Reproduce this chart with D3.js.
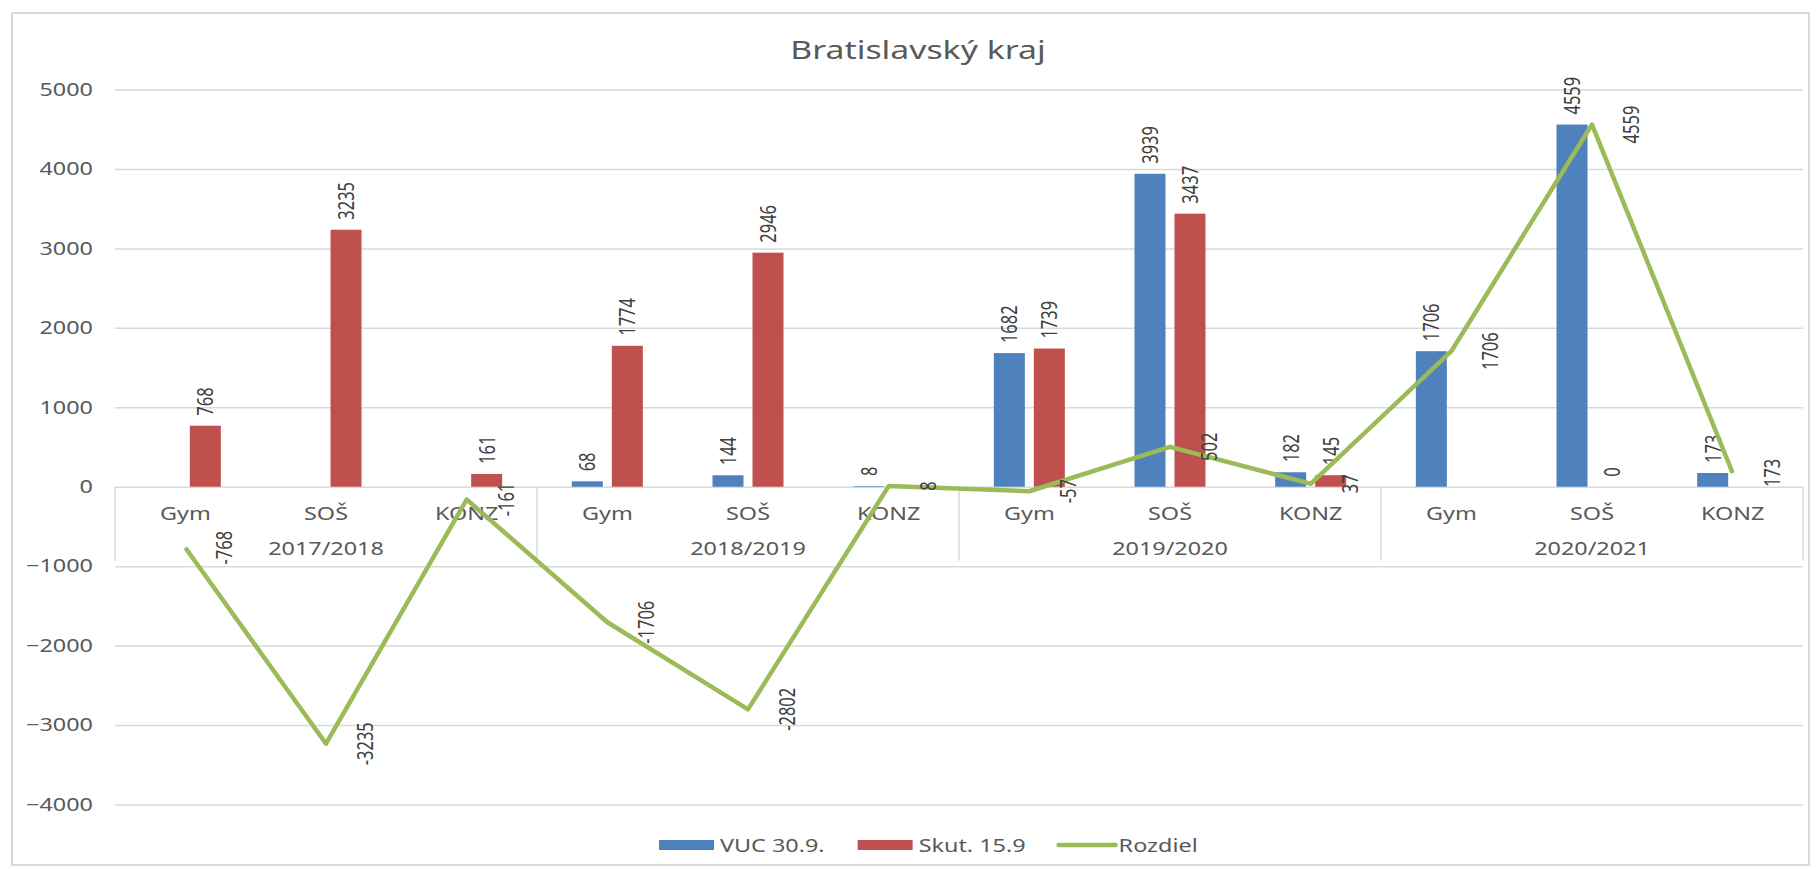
<!DOCTYPE html>
<html>
<head>
<meta charset="utf-8">
<script src="https://cdn.jsdelivr.net/npm/d3@7"></script>
<style>
  body { margin: 0; background: #fff; }
  svg { display: block; font-family: "Noto Sans", sans-serif; }
</style>
</head>
<body>
<svg class="main" width="1820" height="869"></svg>
<script>
// data
var years = ['2017/2018', '2018/2019', '2019/2020', '2020/2021']
var schools = ['Gym', 'SOŠ', 'KONZ']
var vuc = [null, null, null, 68, 144, 8, 1682, 3939, 182, 1706, 4559, 173]
var skut = [768, 3235, 161, 1774, 2946, null, 1739, 3437, 145, null, 0, null]
var rozdiel = [-768, -3235, -161, -1706, -2802, 8, -57, 502, 37, 1706, 4559, 173]
var yTicks = [-4000, -3000, -2000, -1000, 0, 1000, 2000, 3000, 4000, 5000]
var seriesNames = ['VUC 30.9.', 'Skut. 15.9', 'Rozdiel']

var colors = ['#4f81bd', '#c0504d', '#9bbb59']
var SX = 1.3 // the reference text looks stretched sideways

var svg = d3.select('svg.main')

// categories: one per school per year
var cats = []
years.forEach(function(y, yi) {
  schools.forEach(function(s) { cats.push({year: y, yi: yi, school: s}) })
})
cats.forEach(function(c, i) {
  c.i = i
  c.vuc = vuc[i]
  c.skut = skut[i]
  c.rozdiel = rozdiel[i]
})

const plot = {left: 115, right: 1803, top: 89.5, bottom: 804.5}

const x = d3.scaleBand()
  .domain(cats.map(d => d.i))
  .range([plot.left, plot.right])

const y = d3.scaleLinear()
  .domain([-4000, 5000])
  .range([plot.bottom, plot.top])

const inner = d3.scaleBand()
  .domain(['vuc', 'skut'])
  .range([-35.5, 35.5])
  .paddingInner(0.225)

// outer frame
svg.append('rect')
  .attr('x', 12).attr('y', 13)
  .attr('width', 1797).attr('height', 852)
  .attr('fill', 'none')
  .attr('stroke', '#d9d9d9')
  .attr('stroke-width', 2)

// title
svg.append('text')
  .attr('transform', `translate(918, 49) scale(${SX},1)`)
  .attr('text-anchor', 'middle')
  .attr('dominant-baseline', 'central')
  .attr('font-size', 26)
  .attr('fill', '#595959')
  .text('Bratislavský kraj')

// y axis with gridlines
const yAxis = svg.append('g')
  .attr('transform', `translate(${plot.left}, 0)`)
  .call(d3.axisLeft(y).tickValues(yTicks).tickFormat(d3.format('d'))
    .tickSize(-(plot.right - plot.left)).tickPadding(0))
yAxis.select('.domain').remove()
yAxis.selectAll('line').attr('stroke', '#d9d9d9').attr('stroke-width', 1.5)
yAxis.selectAll('text')
  .attr('x', -22 / SX)
  .attr('transform', `scale(${SX},1)`)
  .attr('font-size', 18)
  .attr('font-family', '"Noto Sans", sans-serif')
  .attr('fill', '#595959')

// category axis: year separators
const bounds = [0, 3, 6, 9, 12].map(function(k) {
  return k < 12 ? x(k) : x(11) + x.bandwidth()
})
svg.append('g').selectAll('line')
  .data(bounds).join('line')
  .attr('x1', d => d).attr('x2', d => d)
  .attr('y1', y(0)).attr('y2', y(0) + 74)
  .attr('stroke', '#d9d9d9')
  .attr('stroke-width', 1.5)

svg.append('g').selectAll('text')
  .data(cats).join('text')
  .attr('transform', d => `translate(${x(d.i) + x.bandwidth() / 2}, ${y(0) + 26}) scale(${SX},1)`)
  .attr('text-anchor', 'middle')
  .attr('dominant-baseline', 'central')
  .attr('font-size', 18)
  .attr('fill', '#595959')
  .text(d => d.school)

svg.append('g').selectAll('text')
  .data(years).join('text')
  .attr('transform', (d, i) => `translate(${(bounds[i] + bounds[i + 1]) / 2}, ${y(0) + 61}) scale(${SX},1)`)
  .attr('text-anchor', 'middle')
  .attr('dominant-baseline', 'central')
  .attr('font-size', 18)
  .attr('fill', '#595959')
  .text(d => d)

// bars
var barSeries = [
  {key: 'vuc', color: colors[0]},
  {key: 'skut', color: colors[1]}
]
barSeries.forEach(function(s) {
  var pts = cats.filter(d => d[s.key] != null)
  var cx = d => x(d.i) + x.bandwidth() / 2 + inner(s.key)
  svg.append('g').selectAll('rect')
    .data(pts).join('rect')
    .attr('x', cx)
    .attr('width', inner.bandwidth())
    .attr('y', d => y(Math.max(0, d[s.key])))
    .attr('height', d => Math.abs(y(d[s.key]) - y(0)))
    .attr('fill', s.color)
  svg.append('g').selectAll('text')
    .data(pts).join('text')
    .attr('transform', d => `translate(${cx(d) + inner.bandwidth() / 2}, ${y(Math.max(0, d[s.key])) - 10}) scale(${SX},1) rotate(-90)`)
    .attr('text-anchor', 'start')
    .attr('dominant-baseline', 'central')
    .attr('font-size', 16.5)
    .attr('fill', '#404040')
    .text(d => d[s.key])
})

// difference line
const line = d3.line()
  .x(d => x(d.i) + x.bandwidth() / 2)
  .y(d => y(d.rozdiel))
svg.append('path')
  .datum(cats)
  .attr('d', line)
  .attr('fill', 'none')
  .attr('stroke', colors[2])
  .attr('stroke-width', 4.5)
  .attr('stroke-linejoin', 'round')

svg.append('g').selectAll('text')
  .data(cats).join('text')
  .attr('transform', d => `translate(${x(d.i) + x.bandwidth() / 2 + 39}, ${y(d.rozdiel)}) scale(${SX},1) rotate(-90)`)
  .attr('text-anchor', 'middle')
  .attr('dominant-baseline', 'central')
  .attr('font-size', 16.5)
  .attr('fill', '#404040')
  .text(d => d.rozdiel)

// legend
var legend = svg.append('g').attr('transform', 'translate(659, 845)')
var lx = 0
seriesNames.forEach(function(name, i) {
  if (i < 2) {
    legend.append('rect')
      .attr('x', lx).attr('y', -5)
      .attr('width', 55).attr('height', 10)
      .attr('fill', colors[i])
  } else {
    legend.append('line')
      .attr('x1', lx).attr('x2', lx + 57)
      .attr('y1', 0).attr('y2', 0)
      .attr('stroke', colors[i])
      .attr('stroke-width', 4.5)
      .attr('stroke-linecap', 'round')
  }
  lx += i < 2 ? 61 : 60
  var t = legend.append('text')
    .attr('transform', `translate(${lx}, 0) scale(${SX},1)`)
    .attr('dominant-baseline', 'central')
    .attr('font-size', 18)
    .attr('fill', '#595959')
    .text(name)
  lx += t.node().getComputedTextLength() * SX + 33
})
</script>
</body>
</html>
